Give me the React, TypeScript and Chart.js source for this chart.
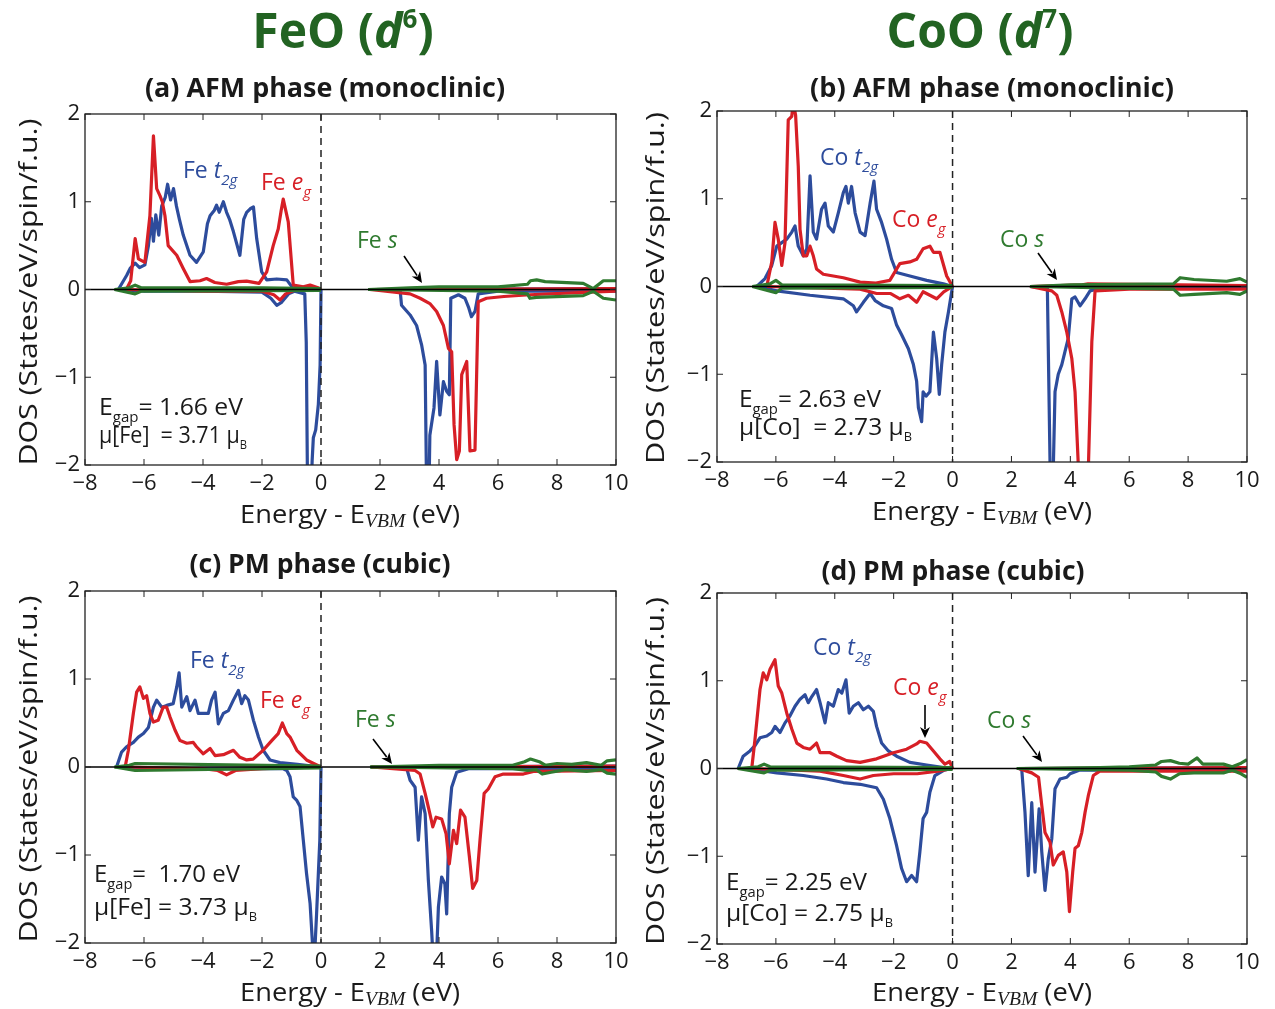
import React, { useEffect, useRef } from "react";
import { Chart, registerables } from "chart.js";
Chart.register(...registerables);

const W = 1275;
const H = 1009;
const BLUE = "#2d4c9c";
const RED = "#d71f26";
const GREEN = "#2f7a2f";
const HEAD = "#226322";
const INK = "#1a1a1a";
const FONT = "'Open Sans', 'Noto Sans', sans-serif";
const SERIF = "'Liberation Serif', 'DejaVu Serif', serif";

const xTickValues = [-8, -6, -4, -2, 0, 2, 4, 6, 8, 10];
const yTickValues = [-2, -1, 0, 1, 2];

type Pt = [number, number] | null; // null = break between valence and conduction band

// ---------- (a) FeO AFM ----------
const feAfmT2gUp: Pt[] = [[-6.87,0],[-6.59,0.16],[-6.47,0.24],[-6.3,0.3],[-6.15,0.25],[-5.97,0.28],[-5.85,0.5],[-5.75,0.81],[-5.68,0.55],[-5.6,0.85],[-5.5,0.62],[-5.4,0.95],[-5.28,1.05],[-5.2,1.2],[-5.1,1.02],[-5.0,1.15],[-4.9,0.95],[-4.8,0.8],[-4.67,0.62],[-4.44,0.39],[-4.22,0.31],[-3.99,0.43],[-3.85,0.75],[-3.76,0.84],[-3.62,0.9],[-3.54,0.96],[-3.45,0.88],[-3.31,1.0],[-3.2,0.88],[-3.1,0.8],[-2.97,0.66],[-2.75,0.39],[-2.62,0.8],[-2.52,0.88],[-2.4,0.92],[-2.29,0.94],[-2.18,0.58],[-2.01,0.2],[-1.84,0.11],[-1.5,0.12],[-1.16,0.11],[-0.94,0.01],[0,0],null,[1.66,0],[10,0.01]];
const feAfmT2gDn: Pt[] = [[-6.9,0],[-6,-0.02],[-4,-0.02],[-2,-0.03],[-1.7,-0.1],[-1.5,-0.18],[-1.35,-0.15],[-1.1,-0.05],[-0.9,-0.02],[-0.55,-0.05],[-0.5,-0.6],[-0.45,-2.5],[-0.35,-2.5],[-0.3,-1.95],[-0.26,-1.69],[-0.18,-1.6],[-0.09,-1.31],[-0.03,-0.86],[0,0],null,[1.66,0],[2.68,0],[2.73,-0.18],[3.02,-0.29],[3.24,-0.41],[3.41,-0.63],[3.53,-0.86],[3.58,-2.3],[3.66,-2.3],[3.69,-1.66],[3.83,-1.35],[3.92,-0.82],[4.03,-1.43],[4.15,-1.05],[4.26,-1.16],[4.35,-1.2],[4.4,-0.1],[4.66,-0.06],[4.88,-0.1],[5.0,-0.2],[5.1,-0.31],[5.22,-0.25],[5.33,-0.05],[6,-0.02],[10,-0.02]];
const feAfmEgUp: Pt[] = [[-6.6,0],[-6.45,0.1],[-6.3,0.58],[-6.19,0.35],[-5.97,0.31],[-5.8,0.84],[-5.68,1.75],[-5.57,1.15],[-5.46,1.07],[-5.38,1.0],[-5.29,0.84],[-5.18,0.5],[-4.89,0.39],[-4.67,0.24],[-4.44,0.09],[-4.1,0.1],[-3.88,0.125],[-3.6,0.08],[-3.2,0.06],[-2.8,0.09],[-2.52,0.095],[-2.1,0.07],[-1.84,0.2],[-1.62,0.5],[-1.45,0.69],[-1.35,0.9],[-1.28,1.03],[-1.11,0.77],[-0.94,0.05],[-0.6,0.03],[-0.37,0.05],[-0.1,0.02],[0,0],null,[1.66,0],[10,0.01]];
const feAfmEgDn: Pt[] = [[-6.6,0],[-4,-0.02],[-2,-0.02],[-1.6,-0.06],[-1.39,-0.12],[-1.2,-0.05],[-0.9,-0.01],[0,0],null,[1.66,0],[3.02,-0.05],[3.36,-0.1],[3.69,-0.16],[3.92,-0.25],[4.15,-0.41],[4.32,-0.67],[4.43,-0.71],[4.51,-1.54],[4.6,-1.94],[4.69,-1.84],[4.77,-0.97],[4.94,-0.82],[5.05,-1.84],[5.22,-1.83],[5.33,-0.14],[5.61,-0.1],[6.2,-0.08],[7.08,-0.06],[9.1,-0.03],[10,-0.02]];
const feAfmSUp: Pt[] = [[-7,0],[-6.5,0.02],[-6.3,0.05],[-6.1,0.02],[-4,0.02],[-2,0.02],[0,0.01],null,[1.6,0],[3,0.02],[4,0.03],[6,0.03],[7.0,0.06],[7.1,0.1],[7.31,0.11],[7.6,0.09],[8.89,0.07],[9.23,0.01],[9.57,0.1],[10,0.1]];
const feAfmSDn: Pt[] = [[-7,0],[-6.3,-0.05],[-6.1,-0.02],[0,-0.01],null,[1.6,0],[6,-0.02],[7.0,-0.05],[7.08,-0.1],[7.3,-0.09],[8.89,-0.07],[9.23,-0.02],[9.57,-0.1],[10,-0.12]];

// ---------- (b) CoO AFM ----------
const coAfmT2gUp: Pt[] = [[-6.65,0],[-6.37,0.09],[-6.14,0.24],[-5.97,0.46],[-5.8,0.5],[-5.63,0.54],[-5.46,0.62],[-5.35,0.69],[-5.24,0.46],[-5.07,0.35],[-4.95,0.43],[-4.84,1.26],[-4.73,0.62],[-4.62,0.54],[-4.45,0.88],[-4.33,0.95],[-4.22,0.69],[-4.05,0.62],[-3.88,0.84],[-3.71,1.07],[-3.62,1.14],[-3.54,0.95],[-3.43,1.14],[-3.31,0.84],[-3.14,0.62],[-2.97,0.58],[-2.8,0.95],[-2.67,1.2],[-2.58,0.88],[-2.41,0.73],[-2.24,0.54],[-2.07,0.31],[-1.9,0.16],[-1.45,0.12],[-0.88,0.07],[-0.31,0.03],[0,0],null,[2.63,0],[10,0.01]];
const coAfmT2gDn: Pt[] = [[-6.6,0],[-5.97,-0.05],[-4.84,-0.1],[-3.71,-0.14],[-3.37,-0.22],[-3.26,-0.29],[-3.03,-0.18],[-2.8,-0.08],[-2.63,-0.16],[-2.35,-0.22],[-2.07,-0.25],[-1.9,-0.44],[-1.73,-0.55],[-1.5,-0.71],[-1.33,-0.89],[-1.22,-1.08],[-1.16,-1.38],[-1.05,-1.54],[-1.0,-1.2],[-0.9,-1.25],[-0.77,-1.2],[-0.65,-0.52],[-0.54,-0.82],[-0.45,-1.23],[-0.37,-0.89],[-0.26,-0.52],[-0.14,-0.29],[-0.03,-0.06],[0,0],null,[2.63,0],[3.22,-0.02],[3.31,-1.99],[3.36,-2.3],[3.42,-2.1],[3.48,-1.2],[3.59,-1.0],[3.71,-0.89],[3.82,-0.74],[3.93,-0.59],[4.05,-0.14],[4.16,-0.12],[4.33,-0.22],[4.5,-0.14],[4.67,-0.05],[5,-0.02],[10,-0.02]];
const coAfmEgUp: Pt[] = [[-6.31,0],[-6.14,0.28],[-6.03,0.73],[-5.92,0.54],[-5.8,0.24],[-5.69,0.5],[-5.58,1.9],[-5.46,1.94],[-5.41,2.1],[-5.33,1.95],[-5.24,1.37],[-5.18,0.65],[-5.07,0.35],[-4.95,0.35],[-4.84,0.46],[-4.73,0.35],[-4.62,0.2],[-4.39,0.14],[-3.71,0.1],[-3.14,0.05],[-2.6,0.04],[-2.13,0.07],[-1.79,0.26],[-1.45,0.28],[-1.22,0.31],[-1.0,0.43],[-0.77,0.46],[-0.65,0.39],[-0.43,0.39],[-0.2,0.12],[0,0],null,[2.63,0],[4.4,0.02],[4.6,0.03],[10,0.01]];
const coAfmEgDn: Pt[] = [[-6.3,0],[-3.14,-0.03],[-2.58,-0.08],[-2.1,-0.08],[-1.79,-0.14],[-1.5,-0.1],[-1.22,-0.18],[-1.0,-0.06],[-0.54,-0.14],[-0.3,-0.06],[0,0],null,[2.63,0],[3.37,-0.05],[3.54,-0.1],[3.71,-0.29],[3.88,-0.52],[4.05,-0.82],[4.16,-1.2],[4.27,-2.03],[4.4,-2.4],[4.61,-2.1],[4.73,-0.63],[4.84,-0.05],[6,-0.03],[10,-0.03]];
const coAfmSUp: Pt[] = [[-6.8,0],[-6.2,0.03],[-6.0,0.07],[-5.8,0.02],[0,0.01],null,[2.63,0],[4,0.02],[7.5,0.03],[7.73,0.1],[8.2,0.08],[9.31,0.06],[9.76,0.09],[10,0.05]];
const coAfmSDn: Pt[] = [[-6.8,0],[-6.0,-0.07],[-5.8,-0.02],[0,-0.01],null,[2.63,0],[7.5,-0.03],[7.73,-0.1],[8.2,-0.09],[9.31,-0.07],[9.76,-0.09],[10,-0.05]];

// ---------- (c) FeO PM ----------
const fePmT2gUp: Pt[] = [[-6.93,0],[-6.76,0.17],[-6.59,0.23],[-6.36,0.28],[-6.19,0.34],[-6.02,0.38],[-5.85,0.45],[-5.68,0.68],[-5.57,0.76],[-5.4,0.68],[-5.23,0.7],[-5.01,0.72],[-4.89,0.91],[-4.81,1.07],[-4.72,0.68],[-4.55,0.8],[-4.44,0.64],[-4.27,0.76],[-4.16,0.61],[-3.82,0.61],[-3.71,0.76],[-3.59,0.85],[-3.48,0.49],[-3.31,0.61],[-3.14,0.64],[-2.97,0.76],[-2.8,0.87],[-2.69,0.72],[-2.58,0.81],[-2.46,0.76],[-2.29,0.53],[-2.12,0.34],[-1.96,0.19],[-1.73,0.08],[-1.39,0.05],[-0.8,0.03],[0,0],null,[1.7,0],[10,0.01]];
const fePmT2gDn: Pt[] = [[-6.9,0],[-4,-0.02],[-1.28,-0.02],[-1.16,-0.04],[-1.05,-0.11],[-0.94,-0.34],[-0.82,-0.38],[-0.71,-0.45],[-0.6,-0.83],[-0.49,-1.21],[-0.37,-1.55],[-0.29,-2.0],[-0.24,-2.3],[-0.15,-1.67],[-0.04,-0.83],[0,0],null,[1.7,0],[2.9,-0.01],[3.02,-0.15],[3.19,-0.23],[3.3,-0.83],[3.41,-0.34],[3.53,-0.53],[3.64,-1.29],[3.75,-1.86],[3.82,-2.3],[3.9,-2.3],[3.98,-1.59],[4.09,-1.25],[4.2,-1.33],[4.26,-1.67],[4.35,-0.53],[4.43,-0.23],[4.6,-0.06],[5,-0.02],[10,-0.02]];
const fePmEgUp: Pt[] = [[-6.64,0],[-6.53,0.19],[-6.36,0.61],[-6.25,0.85],[-6.14,0.91],[-6.02,0.78],[-5.91,0.81],[-5.8,0.61],[-5.68,0.51],[-5.52,0.53],[-5.35,0.68],[-5.23,0.68],[-5.12,0.57],[-4.95,0.42],[-4.78,0.3],[-4.55,0.27],[-4.33,0.28],[-4.22,0.23],[-3.99,0.15],[-3.76,0.21],[-3.59,0.13],[-3.31,0.14],[-2.97,0.19],[-2.75,0.11],[-2.52,0.08],[-2.3,0.09],[-1.96,0.19],[-1.67,0.3],[-1.45,0.38],[-1.31,0.5],[-1.16,0.38],[-1.05,0.34],[-0.82,0.19],[-0.49,0.08],[-0.25,0.04],[0,0],null,[1.7,0],[10,0.01]];
const fePmEgDn: Pt[] = [[-6.6,0],[-4,-0.02],[-3.5,-0.04],[-3.2,-0.09],[-2.9,-0.04],[-2,-0.02],[0,0],null,[1.7,0],[3.19,-0.04],[3.36,-0.08],[3.53,-0.3],[3.69,-0.53],[3.79,-0.68],[3.9,-0.57],[4.09,-0.59],[4.24,-0.76],[4.35,-1.1],[4.49,-0.72],[4.6,-0.87],[4.73,-0.49],[4.88,-0.57],[5.03,-1.02],[5.14,-1.38],[5.28,-1.29],[5.39,-0.83],[5.53,-0.3],[5.67,-0.25],[5.9,-0.11],[6.18,-0.08],[6.86,-0.08],[7.2,-0.05],[10,-0.04]];
const fePmSUp: Pt[] = [[-7,0],[-6.5,0.02],[-6.3,0.04],[0,0.01],null,[1.66,0],[4,0.02],[6.5,0.02],[6.9,0.06],[7.1,0.09],[7.4,0.06],[7.6,0.02],[8,0.04],[8.5,0.03],[9,0.05],[9.5,0.02],[9.7,0.07],[10,0.08]];
const fePmSDn: Pt[] = [[-7,0],[-6.3,-0.04],[0,-0.01],null,[1.66,0],[6.5,-0.02],[7.0,-0.04],[7.3,-0.03],[7.5,-0.08],[7.8,-0.06],[8.3,-0.03],[9,-0.05],[9.5,-0.03],[9.7,-0.07],[10,-0.08]];

// ---------- (d) CoO PM ----------
const coPmT2gUp: Pt[] = [[-7.28,0],[-7.11,0.14],[-6.88,0.2],[-6.71,0.26],[-6.54,0.35],[-6.31,0.37],[-6.14,0.41],[-6.03,0.48],[-5.86,0.41],[-5.69,0.52],[-5.52,0.6],[-5.35,0.71],[-5.18,0.79],[-5.01,0.84],[-4.9,0.75],[-4.78,0.82],[-4.62,0.9],[-4.5,0.75],[-4.33,0.52],[-4.22,0.75],[-4.05,0.71],[-3.88,0.9],[-3.76,0.86],[-3.62,1.01],[-3.51,0.63],[-3.37,0.71],[-3.2,0.75],[-3.03,0.67],[-2.86,0.71],[-2.69,0.65],[-2.58,0.48],[-2.41,0.29],[-2.18,0.2],[-1.9,0.14],[-1.45,0.07],[-0.88,0.04],[-0.3,0.01],[0,0],null,[2.25,0],[10,0.01]];
const coPmT2gDn: Pt[] = [[-7,0],[-5.97,-0.05],[-5.07,-0.08],[-4.28,-0.12],[-3.71,-0.16],[-3.14,-0.18],[-2.58,-0.22],[-2.35,-0.35],[-2.13,-0.57],[-1.9,-0.88],[-1.73,-1.14],[-1.56,-1.29],[-1.39,-1.22],[-1.22,-1.29],[-1.11,-0.95],[-1.0,-0.57],[-0.88,-0.5],[-0.77,-0.27],[-0.6,-0.08],[-0.3,-0.02],[0,0],null,[2.25,0],[2.35,-0.01],[2.46,-0.5],[2.57,-1.22],[2.69,-0.39],[2.8,-1.18],[2.94,-0.46],[3.03,-0.95],[3.14,-1.39],[3.25,-1.03],[3.37,-0.8],[3.48,-0.23],[3.65,-0.12],[3.88,-0.1],[3.99,-0.06],[4.3,-0.02],[10,-0.02]];
const coPmEgUp: Pt[] = [[-6.82,0],[-6.71,0.33],[-6.54,0.9],[-6.43,1.09],[-6.31,1.01],[-6.2,1.13],[-6.03,1.24],[-5.92,0.94],[-5.8,0.86],[-5.63,0.63],[-5.46,0.45],[-5.29,0.29],[-5.07,0.24],[-4.84,0.22],[-4.62,0.29],[-4.5,0.18],[-4.16,0.18],[-3.93,0.14],[-3.6,0.09],[-3.14,0.07],[-2.58,0.11],[-2.01,0.18],[-1.56,0.22],[-1.22,0.28],[-1.11,0.31],[-0.88,0.29],[-0.65,0.2],[-0.43,0.11],[-0.26,0.05],[-0.1,0.08],[0,0],null,[2.25,0],[10,0.01]];
const coPmEgDn: Pt[] = [[-6.8,0],[-4.5,-0.03],[-3.71,-0.08],[-3.14,-0.12],[-2.69,-0.08],[-2,-0.06],[-1.2,-0.06],[-0.5,-0.03],[0,0],null,[2.25,0],[2.69,-0.05],[2.92,-0.1],[3.03,-0.42],[3.14,-0.73],[3.31,-0.84],[3.42,-1.1],[3.59,-0.99],[3.76,-0.95],[3.88,-1.18],[3.97,-1.63],[4.08,-1.18],[4.16,-0.91],[4.27,-0.88],[4.39,-0.73],[4.5,-0.5],[4.61,-0.31],[4.78,-0.08],[5,-0.03],[10,-0.03]];
const coPmSUp: Pt[] = [[-7.3,0],[-6.6,0.02],[-6.4,0.05],[-6.2,0.02],[0,0.01],null,[2.18,0],[5,0.01],[6,0.02],[6.9,0.04],[7.1,0.08],[7.4,0.09],[7.7,0.06],[8.0,0.05],[8.3,0.12],[8.5,0.05],[9.2,0.05],[9.5,0.02],[9.8,0.06],[10,0.1]];
const coPmSDn: Pt[] = [[-7.3,0],[-6.4,-0.05],[-6.2,-0.02],[0,-0.01],null,[2.18,0],[6,-0.02],[6.9,-0.04],[7.1,-0.09],[7.4,-0.12],[7.7,-0.06],[8.2,-0.05],[9.2,-0.05],[9.5,-0.02],[9.8,-0.06],[10,-0.1]];

// ---------- text helpers ----------
type Run = [string, number, string?, number?]; // text, size, style ('', 'i', 'b', 'bi', 's' = serif italic), dy
type Label = { x: number; y: number; runs: Run[]; color: string; align?: "left" | "center"; rot?: boolean; w?: number };
type Arrow = [number, number, number, number];

function fontOf(r: Run) {
  const st = r[2] || "";
  const fam = st.includes("s") ? SERIF : FONT;
  const it = st.includes("i") || st.includes("s") ? "italic " : "";
  const b = st.includes("b") ? "bold " : "";
  return `${it}${b}${r[1]}px ${fam}`;
}

function drawLabel(ctx: CanvasRenderingContext2D, L: Label) {
  ctx.save();
  ctx.fillStyle = L.color;
  ctx.textBaseline = "alphabetic";
  ctx.textAlign = "left";
  let total = 0;
  for (const r of L.runs) {
    ctx.font = fontOf(r);
    total += ctx.measureText(r[0]).width;
  }
  ctx.translate(L.x, L.y);
  if (L.rot) ctx.rotate(-Math.PI / 2);
  if (L.w) ctx.scale(L.w / total, 1);
  let cx = L.align === "center" ? -total / 2 : 0;
  for (const r of L.runs) {
    ctx.font = fontOf(r);
    ctx.fillText(r[0], cx, r[3] || 0);
    cx += ctx.measureText(r[0]).width;
  }
  ctx.restore();
}

function drawArrow(ctx: CanvasRenderingContext2D, a: Arrow) {
  const [x1, y1, x2, y2] = a;
  const ang = Math.atan2(y2 - y1, x2 - x1);
  const hl = 11, hw = 5;
  ctx.save();
  ctx.strokeStyle = "#000";
  ctx.fillStyle = "#000";
  ctx.lineWidth = 1.6;
  ctx.beginPath();
  ctx.moveTo(x1, y1);
  ctx.lineTo(x2 - Math.cos(ang) * hl * 0.8, y2 - Math.sin(ang) * hl * 0.8);
  ctx.stroke();
  ctx.beginPath();
  ctx.moveTo(x2, y2);
  ctx.lineTo(x2 - Math.cos(ang) * hl + Math.sin(ang) * hw, y2 - Math.sin(ang) * hl - Math.cos(ang) * hw);
  ctx.lineTo(x2 - Math.cos(ang) * hl * 0.7, y2 - Math.sin(ang) * hl * 0.7);
  ctx.lineTo(x2 - Math.cos(ang) * hl - Math.sin(ang) * hw, y2 - Math.sin(ang) * hl + Math.cos(ang) * hw);
  ctx.closePath();
  ctx.fill();
  ctx.restore();
}

const AS = 23; // annotation font size
const xTitle = (cx: number, by: number): Label => ({ x: cx, y: by, color: INK, align: "center", w: 220, runs: [["Energy - E", 25], ["VBM", 18, "s", 4], [" (eV)", 25]] });
const yTitle = (bx: number, cy: number, w: number): Label => ({ x: bx, y: cy, color: INK, align: "center", rot: true, w, runs: [["DOS (States/eV/spin/f.u.)", 26]] });
const orb = (el: string, o: string, sub: string, x: number, y: number, color: string): Label => ({ x, y, color, runs: sub ? [[el + " ", AS], [o, AS, "i"], [sub, 15, "i", 7]] : [[el + " ", AS], [o, AS, "i"]] });
const gapLbl = (txt: string, x: number, y: number, w: number): Label => ({ x, y, color: INK, w, runs: [["E", AS], ["gap", 14, "", 7], [txt, AS]] });
const muLbl = (txt: string, x: number, y: number, w: number): Label => ({ x, y, color: INK, w, runs: [[txt, AS], ["B", 12, "", 6]] });

type PanelSpec = {
  key: string;
  area: { l: number; t: number; r: number; b: number };
  series: { data: Pt[]; color: string }[];
  labels: Label[];
  arrows: Arrow[];
};

const panels: PanelSpec[] = [
  {
    key: "a",
    area: { l: 85, t: 114, r: 616, b: 465 },
    series: [
      { data: feAfmSUp, color: GREEN }, { data: feAfmSDn, color: GREEN },
      { data: feAfmEgUp, color: RED }, { data: feAfmEgDn, color: RED },
      { data: feAfmT2gUp, color: BLUE }, { data: feAfmT2gDn, color: BLUE },
    ],
    labels: [
      { x: 343, y: 48, color: HEAD, align: "center", runs: [["FeO (", 48, "b"], ["d", 48, "bi"], ["6", 26, "b", -20], [")", 48, "b"]] },
      { x: 325, y: 97, color: INK, align: "center", w: 360, runs: [["(a) AFM phase (monoclinic)", 26, "b"]] },
      orb("Fe", "t", "2g", 183, 178, BLUE),
      orb("Fe", "e", "g", 261, 190, RED),
      orb("Fe", "s", "", 357, 248, GREEN),
      gapLbl("= 1.66 eV", 99, 415, 144),
      muLbl("\u03bc[Fe]  = 3.71 \u03bc", 99, 443, 148),
      xTitle(350, 523),
      yTitle(37, 292, 347),
    ],
    arrows: [[404, 256, 422, 283]],
  },
  {
    key: "b",
    area: { l: 717, t: 111, r: 1247, b: 462 },
    series: [
      { data: coAfmSUp, color: GREEN }, { data: coAfmSDn, color: GREEN },
      { data: coAfmEgUp, color: RED }, { data: coAfmEgDn, color: RED },
      { data: coAfmT2gUp, color: BLUE }, { data: coAfmT2gDn, color: BLUE },
    ],
    labels: [
      { x: 980, y: 48, color: HEAD, align: "center", runs: [["CoO (", 48, "b"], ["d", 48, "bi"], ["7", 26, "b", -20], [")", 48, "b"]] },
      { x: 992, y: 97, color: INK, align: "center", w: 364, runs: [["(b) AFM phase (monoclinic)", 26, "b"]] },
      orb("Co", "t", "2g", 820, 165, BLUE),
      orb("Co", "e", "g", 892, 227, RED),
      orb("Co", "s", "", 1000, 247, GREEN),
      gapLbl("= 2.63 eV", 739, 407, 142),
      muLbl("\u03bc[Co]  = 2.73 \u03bc", 739, 435, 173),
      xTitle(982, 520),
      yTitle(664, 288, 352),
    ],
    arrows: [[1038, 253, 1057, 280]],
  },
  {
    key: "c",
    area: { l: 85, t: 591, r: 616, b: 943 },
    series: [
      { data: fePmSUp, color: GREEN }, { data: fePmSDn, color: GREEN },
      { data: fePmEgUp, color: RED }, { data: fePmEgDn, color: RED },
      { data: fePmT2gUp, color: BLUE }, { data: fePmT2gDn, color: BLUE },
    ],
    labels: [
      { x: 320, y: 573, color: INK, align: "center", w: 261, runs: [["(c) PM phase (cubic)", 26, "b"]] },
      orb("Fe", "t", "2g", 190, 668, BLUE),
      orb("Fe", "e", "g", 260, 708, RED),
      orb("Fe", "s", "", 355, 727, GREEN),
      gapLbl("=  1.70 eV", 94, 882, 146),
      muLbl("\u03bc[Fe] = 3.73 \u03bc", 94, 915, 163),
      xTitle(350, 1001),
      yTitle(37, 769, 347),
    ],
    arrows: [[373, 739, 392, 764]],
  },
  {
    key: "d",
    area: { l: 717, t: 593, r: 1247, b: 944 },
    series: [
      { data: coPmSUp, color: GREEN }, { data: coPmSDn, color: GREEN },
      { data: coPmEgUp, color: RED }, { data: coPmEgDn, color: RED },
      { data: coPmT2gUp, color: BLUE }, { data: coPmT2gDn, color: BLUE },
    ],
    labels: [
      { x: 953, y: 580, color: INK, align: "center", w: 263, runs: [["(d) PM phase (cubic)", 26, "b"]] },
      orb("Co", "t", "2g", 813, 655, BLUE),
      orb("Co", "e", "g", 893, 695, RED),
      orb("Co", "s", "", 987, 728, GREEN),
      gapLbl("= 2.25 eV", 726, 890, 141),
      muLbl("\u03bc[Co] = 2.75 \u03bc", 726, 921, 167),
      xTitle(982, 1001),
      yTitle(664, 771, 348),
    ],
    arrows: [[925, 705, 925, 738], [1023, 736, 1042, 762]],
  },
];

const YW = 60;
const XH = 40;

function toPoints(arr: Pt[]) {
  return arr.map((p) => (p ? { x: p[0], y: p[1] } : { x: 1, y: null }));
}

function decoPlugin(p: PanelSpec) {
  return {
    id: "deco_" + p.key,
    afterDatasetsDraw(chart: any) {
      const { ctx, chartArea: a, scales } = chart;
      const xs = scales.x, ys = scales.y;
      ctx.save();
      const y0 = ys.getPixelForValue(0);
      ctx.strokeStyle = "#000";
      ctx.lineWidth = 1.5;
      ctx.beginPath();
      ctx.moveTo(a.left, y0);
      ctx.lineTo(a.right, y0);
      ctx.stroke();
      const x0 = xs.getPixelForValue(0);
      ctx.setLineDash([7, 5]);
      ctx.strokeStyle = "#222";
      ctx.lineWidth = 1.5;
      ctx.beginPath();
      ctx.moveTo(x0, a.top);
      ctx.lineTo(x0, a.bottom);
      ctx.stroke();
      ctx.setLineDash([]);
      ctx.strokeStyle = "#222";
      ctx.lineWidth = 1.3;
      ctx.strokeRect(a.left, a.top, a.right - a.left, a.bottom - a.top);
      const tl = 6;
      ctx.lineWidth = 1;
      ctx.beginPath();
      for (const v of xTickValues) {
        const px = xs.getPixelForValue(v);
        ctx.moveTo(px, a.bottom); ctx.lineTo(px, a.bottom - tl);
        ctx.moveTo(px, a.top); ctx.lineTo(px, a.top + tl);
      }
      for (const v of yTickValues) {
        const py = ys.getPixelForValue(v);
        ctx.moveTo(a.left, py); ctx.lineTo(a.left + tl, py);
        ctx.moveTo(a.right, py); ctx.lineTo(a.right - tl, py);
      }
      ctx.stroke();
      ctx.restore();
    },
    afterDraw(chart: any) {
      const ctx = chart.ctx;
      for (const L of p.labels) drawLabel(ctx, L);
      for (const A of p.arrows) drawArrow(ctx, A);
    },
  };
}

const minusFmt = (v: any) => String(v).replace("-", "\u2212");

function Panel({ spec }: { spec: PanelSpec }) {
  const ref = useRef<HTMLCanvasElement | null>(null);
  useEffect(() => {
    const { l, t, r, b } = spec.area;
    const datasets = spec.series.map((s) => ({
      data: toPoints(s.data),
      borderColor: s.color,
      backgroundColor: s.color,
      borderWidth: 3.2,
      pointRadius: 0,
      tension: 0,
      spanGaps: false,
      fill: false,
      borderJoinStyle: "round" as const,
    }));
    const chart = new Chart(ref.current as HTMLCanvasElement, {
      type: "line",
      data: { datasets },
      options: {
        animation: false,
        responsive: false,
        devicePixelRatio: 1,
        events: [],
        layout: { padding: { left: l - YW, top: t, right: W - r, bottom: H - b - XH } },
        plugins: { legend: { display: false }, tooltip: { enabled: false }, title: { display: false } },
        scales: {
          x: {
            type: "linear",
            min: -8,
            max: 10,
            afterBuildTicks: (s: any) => { s.ticks = xTickValues.map((v) => ({ value: v })); },
            afterFit: (s: any) => { s.height = XH; },
            grid: { display: false, drawTicks: false },
            border: { display: false },
            ticks: { padding: 6, color: INK, font: { family: FONT, size: 22 }, maxRotation: 0, autoSkip: false, callback: minusFmt },
          },
          y: {
            type: "linear",
            min: -2,
            max: 2,
            afterBuildTicks: (s: any) => { s.ticks = yTickValues.map((v) => ({ value: v })); },
            afterFit: (s: any) => { s.width = YW; },
            grid: { display: false, drawTicks: false },
            border: { display: false },
            ticks: { padding: 5, color: INK, font: { family: FONT, size: 22 }, autoSkip: false, callback: minusFmt },
          },
        },
      } as any,
      plugins: [decoPlugin(spec)],
    });
    return () => chart.destroy();
  }, [spec]);
  return <canvas ref={ref} width={W} height={H} style={{ position: "absolute", left: 0, top: 0, width: W, height: H }} />;
}

export default function App() {
  return (
    <div style={{ position: "absolute", left: 0, top: 0, width: W, height: H, background: "#fff", overflow: "hidden" }}>
      {panels.map((p) => (
        <Panel key={p.key} spec={p} />
      ))}
    </div>
  );
}
